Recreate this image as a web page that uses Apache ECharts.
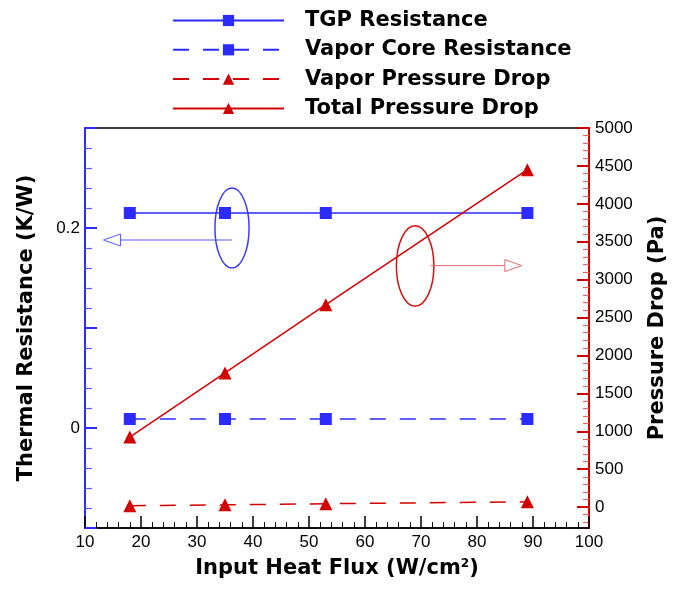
<!DOCTYPE html>
<html><head><meta charset="utf-8">
<script src="https://cdn.jsdelivr.net/npm/echarts@6/dist/echarts.min.js"></script>
<style>html,body{margin:0;padding:0;background:#fff}#c{width:673px;height:592px}</style>
</head><body><div id="c"></div>
<script>
const heatFlux = [18, 35, 53, 89];
const tgpResistance = [0.215, 0.215, 0.215, 0.215];
const vaporCoreResistance = [0.009, 0.009, 0.009, 0.009];
const vaporPressureDrop = [20, 30, 45, 70];
const totalPressureDrop = [925, 1770, 2670, 4450];
const seriesNames = ['TGP Resistance', 'Vapor Core Resistance', 'Vapor Pressure Drop', 'Total Pressure Drop'];
const pressureMajor = [0,500,1000,1500,2000,2500,3000,3500,4000,4500,5000];
const pressureMinor = [];
for (let v = -200; v < 5000; v += 100) if (v % 500 !== 0) pressureMinor.push(v);

const BLUE = '#2b2bff', RED = '#d20000';
const FONT = 'Liberation Sans, Arial, sans-serif';
const TFONT = 'DejaVu Sans, sans-serif';
const pair = (xs, ys) => xs.map((x, i) => [x, ys[i]]);

const chart = echarts.init(document.getElementById('c'), null, {renderer: 'canvas'});
const titleStyle = {fontSize: 21, fontWeight: 'bold', color: '#000', fontFamily: TFONT};
const option = {
  animation: false,
  textStyle: {fontFamily: FONT},
  grid: {left: 85, right: 84, top: 128, bottom: 64, containLabel: false, outerBoundsMode: 'none',
    show: true, borderColor: '#000', borderWidth: 1.5, backgroundColor: 'transparent'},
  legend: {
    data: seriesNames, orient: 'vertical', left: 172, top: 10, padding: 0,
    itemWidth: 111, itemHeight: 14, itemGap: 8.3,
    textStyle: {fontSize: 21, fontWeight: 'bold', color: '#000', fontFamily: TFONT, lineHeight: 21, padding: [0, 0, 0, 16]}
  },
  xAxis: {
    type: 'value', min: 10, max: 100, interval: 10,
    name: 'Input Heat Flux (W/cm{sup|2})', nameLocation: 'middle', nameGap: 30,
    nameTextStyle: Object.assign({}, titleStyle, {
      rich: {sup: {fontSize: 12, fontWeight: 'bold', fontFamily: TFONT, verticalAlign: 'top', padding: [0, 0, 10, 0]}}}),
    axisLine: {onZero: false, lineStyle: {color: '#000', width: 1.5}},
    axisTick: {inside: true, length: 12, lineStyle: {color: '#000', width: 1.5}},
    minorTick: {show: true, splitNumber: 5, length: 6, lineStyle: {color: '#000', width: 1}},
    axisLabel: {fontSize: 17, color: '#000', margin: 6, fontFamily: FONT},
    splitLine: {show: false}
  },
  yAxis: [
    {
      type: 'value', min: -0.1, max: 0.3, interval: 0.1, position: 'left',
      name: 'Thermal Resistance (K/W)', nameLocation: 'middle', nameGap: 48, nameRotate: 90,
      nameTextStyle: titleStyle,
      axisLine: {show: true, onZero: false, lineStyle: {color: BLUE, width: 2}},
      axisTick: {inside: true, length: 12, lineStyle: {color: BLUE, width: 2}},
      minorTick: {show: true, splitNumber: 5, length: 7, lineStyle: {color: '#5a5aff', width: 1.2}},
      axisLabel: {fontSize: 17, color: '#000', margin: 5, fontFamily: FONT,
        formatter: v => Math.abs(v) < 1e-9 ? '0' : (Math.abs(v - 0.2) < 1e-9 ? '0.2' : '')},
      splitLine: {show: false}
    },
    {
      type: 'value', min: -275, max: 5000, position: 'right',
      name: 'Pressure Drop (Pa)', nameLocation: 'middle', nameGap: 58, nameRotate: 90,
      nameTextStyle: titleStyle,
      axisLine: {show: true, onZero: false, lineStyle: {color: RED, width: 2}},
      axisTick: {inside: true, length: 12, customValues: pressureMajor, lineStyle: {color: RED, width: 2}},
      axisLabel: {fontSize: 17, color: '#000', margin: 6, fontFamily: FONT, customValues: pressureMajor,
        formatter: v => String(Math.round(v))},
      splitLine: {show: false}
    },
    {
      type: 'value', min: -275, max: 5000, position: 'right',
      axisLine: {show: false, onZero: false},
      axisTick: {show: true, inside: true, length: 6, customValues: pressureMinor, lineStyle: {color: '#e06a6a', width: 1.2}},
      axisLabel: {show: false},
      splitLine: {show: false}
    }
  ],
  series: [
    {name: seriesNames[0], type: 'line', yAxisIndex: 0, data: pair(heatFlux, tgpResistance),
      symbol: 'rect', symbolSize: 12, itemStyle: {color: BLUE}, lineStyle: {color: BLUE, width: 1.5, type: 'solid'}},
    {name: seriesNames[1], type: 'line', yAxisIndex: 0, data: pair(heatFlux, vaporCoreResistance),
      symbol: 'rect', symbolSize: 12, itemStyle: {color: BLUE}, lineStyle: {color: BLUE, width: 1.5, type: [16, 14]}},
    {name: seriesNames[2], type: 'line', yAxisIndex: 1, data: pair(heatFlux, vaporPressureDrop),
      symbol: 'triangle', symbolSize: 13, itemStyle: {color: RED}, lineStyle: {color: RED, width: 1.5, type: [16, 14]}},
    {name: seriesNames[3], type: 'line', yAxisIndex: 1, data: pair(heatFlux, totalPressureDrop),
      symbol: 'triangle', symbolSize: 13, itemStyle: {color: RED}, lineStyle: {color: RED, width: 1.5, type: 'solid'}}
  ]
};
chart.setOption(option);

// Annotation callouts, defined in data coordinates
const blueEllipse = {x: [33.2, 39.3], y: [0.16, 0.24], axis: 0};
const blueArrow = {from: [36.2, 0.188], to: [13.3, 0.188], axis: 0};
const redEllipse = {x: [65.6, 72.3], y: [2650, 3710], axis: 1};
const redArrow = {from: [71.7, 3185], to: [88.0, 3185], axis: 1};

function px(axis, pt) { return chart.convertToPixel({xAxisIndex: 0, yAxisIndex: axis}, pt); }
function ellipse(e, color) {
  const a = px(e.axis, [e.x[0], e.y[0]]), b = px(e.axis, [e.x[1], e.y[1]]);
  return {type: 'ellipse', shape: {cx: (a[0] + b[0]) / 2, cy: (a[1] + b[1]) / 2, rx: Math.abs(b[0] - a[0]) / 2, ry: Math.abs(b[1] - a[1]) / 2},
    style: {fill: 'none', stroke: color, lineWidth: 1.5}, z: 10};
}
function arrow(ar, color) {
  const f = px(ar.axis, ar.from), t = px(ar.axis, ar.to);
  const dir = Math.sign(t[0] - f[0]);
  const headLen = 17, half = 6;
  const bx = t[0] - dir * headLen;
  return [
    {type: 'line', shape: {x1: f[0], y1: f[1], x2: bx, y2: t[1]}, style: {stroke: color, lineWidth: 1}, z: 10},
    {type: 'polygon', shape: {points: [[t[0], t[1]], [bx, t[1] - half], [bx, t[1] + half]]}, style: {fill: 'none', stroke: color, lineWidth: 1}, z: 10}
  ];
}
chart.setOption({graphic: [
  ellipse(blueEllipse, '#3a3aff'), ...arrow(blueArrow, '#5a5aff'),
  ellipse(redEllipse, '#d41010'), ...arrow(redArrow, '#e06a6a')
]});
</script></body></html>
